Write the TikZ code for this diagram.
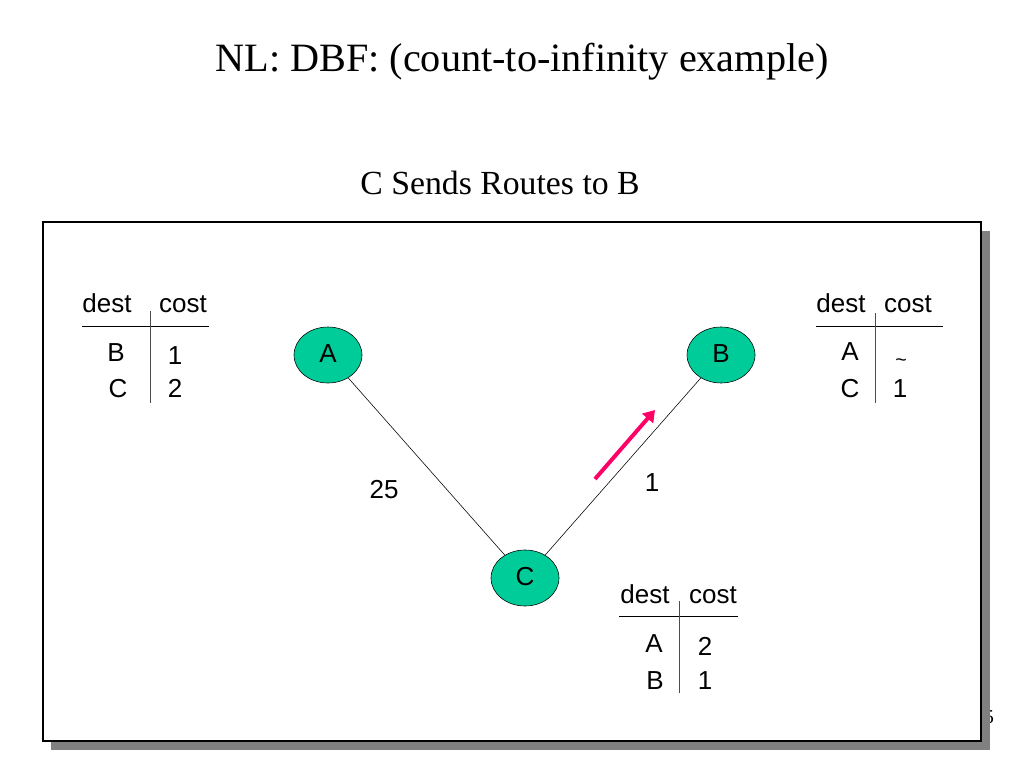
\documentclass[tikz,border=0pt]{standalone}
\usepackage{fontspec}
\setmainfont{Liberation Serif}
\setsansfont{Liberation Sans}
\usetikzlibrary{arrows.meta,shapes.geometric}
\definecolor{nodegreen}{RGB}{0,204,153}
\definecolor{sendred}{RGB}{255,0,102}
\definecolor{shadowgray}{RGB}{128,128,128}
\begin{document}
\begin{tikzpicture}[
        x=0.025cm, y=-0.025cm,
        every node/.style={font=\sffamily\fontsize{18.5}{22}\selectfont, text height=2.4ex, text depth=0.1ex},
        router/.style={ellipse, draw=black, fill=nodegreen, minimum width=1.7cm, minimum height=1.4cm, inner sep=0pt},
        link/.style={draw=black, thin},
        tabrule/.style={draw=black, line width=0.6pt},
        tabsep/.style={draw=black!70, line width=0.6pt},
        sendarrow/.style={draw=sendred, line width=2.8pt, -{Triangle[length=8pt,width=10pt]}}
        ]
        \useasboundingbox (0,0) rectangle (1024,768);

        % Titles
        \node[font=\rmfamily\fontsize{28.6}{34}\selectfont, text height=, text depth=] (title) at (522,62) {NL: DBF: (count-to-infinity example)};
        \node[font=\rmfamily\fontsize{24}{28}\selectfont, text height=, text depth=] (subtitle) at (500,183) {C Sends Routes to B};

        % Page number, mostly hidden by the frame
        \node[font=\rmfamily\fontsize{14}{16}\selectfont, text height=, text depth=] (pageno) at (989,717) {5};

        % Frame with shadow
        \fill[shadowgray] (51,231) rectangle (990,750);
        \filldraw[fill=white, draw=black, line width=0.8pt] (43,222) rectangle (981,741);

        % Routers
        \node[router] (A) at (328,355) {A};
        \node[router] (B) at (721,355) {B};
        \node[router] (C) at (525,578) {C};

        % Links
        \draw[link] (A) -- (C);
        \draw[link] (B) -- (C);
        \node (costAC) at (384,491) {25};
        \node (costBC) at (652,484) {1};

        % C sends its routes to B
        \coordinate (sendfrom) at (595,479);
        \coordinate (sendto) at (655,410);
        \draw[sendarrow] (sendfrom) -- (sendto);

        % Table of A
        \node (Adest) at (107,305) {dest};
        \node (Acost) at (183,305) {cost};
        \draw[tabrule] (82,326) -- (209,326);
        \draw[tabsep] (150,311) -- (150,403);
        \node (Ad1) at (116,354) {B};
        \node (Ac1) at (175,357) {1};
        \node (Ad2) at (118,390) {C};
        \node (Ac2) at (175,390) {2};

        % Table of B
        \node (Bdest) at (841,305) {dest};
        \node (Bcost) at (908,305) {cost};
        \draw[tabrule] (816,326) -- (943,326);
        \draw[tabsep] (875,313) -- (875,403);
        \node (Bd1) at (850,353) {A};
        \node[font=\sffamily\fontsize{14}{16}\selectfont] (Bc1) at (901,359) {\textasciitilde};
        \node (Bd2) at (850,390) {C};
        \node (Bc2) at (900,390) {1};

        % Table of C
        \node (Cdest) at (645,596) {dest};
        \node (Ccost) at (713,596) {cost};
        \draw[tabrule] (619,616) -- (738,616);
        \draw[tabsep] (679,601) -- (679,693);
        \node (Cd1) at (654,645) {A};
        \node (Cc1) at (705,648) {2};
        \node (Cd2) at (655,682) {B};
        \node (Cc2) at (705,682) {1};

    \end{tikzpicture}
\end{document}
